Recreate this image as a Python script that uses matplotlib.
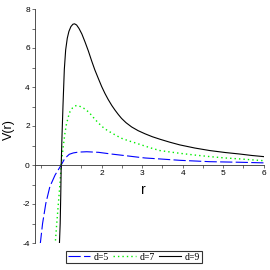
import matplotlib
matplotlib.use("Agg")
import matplotlib.pyplot as plt
import numpy as np

# d = 9 (black, solid)
r9 = [0.955, 0.975, 0.99, 1.0, 1.02, 1.045, 1.077, 1.11, 1.15, 1.19, 1.24, 1.29, 1.33, 1.38,
      1.44, 1.51, 1.59, 1.67, 1.75, 1.83, 1.92, 2.0, 2.08, 2.16, 2.25, 2.33, 2.41, 2.49,
      2.6, 2.74, 2.9, 3.07, 3.25, 3.44, 3.68, 3.93, 4.3, 4.67, 5.05, 5.42, 5.7, 6.0]
v9 = [-4.1, -3.0, -1.4, 0.0, 1.5, 3.1, 4.9, 5.9, 6.5, 6.85, 7.1, 7.22, 7.24, 7.18,
      7.0, 6.72, 6.3, 5.85, 5.35, 4.88, 4.42, 4.02, 3.67, 3.36, 3.05, 2.81, 2.59, 2.39,
      2.17, 1.95, 1.76, 1.6, 1.45, 1.32, 1.17, 1.03, 0.87, 0.74, 0.64, 0.56, 0.49, 0.43]

# d = 7 (green, dotted)
r7 = [0.85, 0.89, 0.93, 0.97, 1.0, 1.05, 1.09, 1.13, 1.18, 1.22, 1.28, 1.33, 1.38, 1.45,
      1.55, 1.67, 1.75, 1.83, 1.93, 2.04, 2.14, 2.25, 2.37, 2.49, 2.65, 2.82, 3.07, 3.25,
      3.44, 3.68, 3.93, 4.3, 4.67, 5.05, 5.42, 6.0]
v7 = [-4.1, -3.0, -1.97, -0.94, 0.0, 0.94, 1.6, 2.1, 2.5, 2.75, 2.93, 3.02, 3.05, 3.02,
      2.92, 2.73, 2.55, 2.35, 2.13, 1.92, 1.77, 1.64, 1.5, 1.37, 1.25, 1.14, 0.97, 0.85,
      0.74, 0.67, 0.60, 0.51, 0.43, 0.36, 0.31, 0.22]

# d = 5 (blue, dashed)
r5 = [0.48, 0.54, 0.62, 0.72, 0.85, 1.0, 1.09, 1.2, 1.3, 1.42, 1.63, 1.92, 2.25, 2.58,
      2.9, 3.07, 3.44, 3.93, 4.67, 5.42, 6.0]
v5 = [-4.1, -3.0, -1.97, -1.11, -0.51, 0.0, 0.34, 0.55, 0.62, 0.66, 0.68, 0.65, 0.56, 0.48,
      0.40, 0.36, 0.31, 0.24, 0.17, 0.14, 0.11]

labels = ["d=5", "d=7", "d=9"]
xtick_labels = [2, 3, 4, 5, 6]
ytick_labels = [-4, -2, 0, 2, 4, 6, 8]

fig = plt.figure(figsize=(2.7, 2.7), dpi=100)
ax = fig.add_axes([35 / 270, 27 / 270, (263.7 - 35) / 270, (243 - 9) / 270])

lw = 0.8
ax.plot(r5, v5, color="#0000ff", lw=lw, dashes=(11, 3), label=labels[0])
ax.plot(r7, v7, color="#00ee00", lw=lw + 0.2, dashes=(1, 2.2), label=labels[1])
ax.plot(r9, v9, color="black", lw=lw, label=labels[2])

ax.set_xlim(0.353, 6.0)
ax.set_ylim(-4, 8)

for s in ["top", "right"]:
    ax.spines[s].set_visible(False)
ax.spines["bottom"].set_position(("data", 0))
ax.spines["left"].set_linewidth(0.6)
ax.spines["bottom"].set_linewidth(0.6)
ax.spines["left"].set_color("#333333")
ax.spines["bottom"].set_color("#333333")

xt = np.arange(0.5, 6.01, 0.5)
ax.set_xticks(xt)
ax.set_xticklabels([str(int(t)) if (t in xtick_labels) else "" for t in xt])
yt = np.arange(-4, 8.01, 1)
ax.set_yticks(yt)
ax.set_yticklabels([str(int(t)) if int(t) in ytick_labels else "" for t in yt])
ax.tick_params(axis="both", direction="out", length=2.2, width=0.5, color="#333333",
               labelsize=6, pad=1.5)
for t in ax.get_xticklabels() + ax.get_yticklabels():
    t.set_fontfamily("Liberation Sans")

fig.text(143 / 270, 1 - 190 / 270, "r", fontsize=10, family="Liberation Sans",
         ha="center", va="center")
fig.text(9 / 270, 1 - 130 / 270, "V(r)", fontsize=9, family="Liberation Sans",
         ha="center", va="center", rotation=90)

leg = fig.legend(loc="center", bbox_to_anchor=(134 / 270, 1 - 257 / 270), ncol=3,
                 frameon=True, fancybox=False, edgecolor="black",
                 prop={"family": "Liberation Serif", "size": 7},
                 handlelength=2.3, handletextpad=0.4, columnspacing=0.4,
                 borderpad=0.15, borderaxespad=0)
leg.get_frame().set_linewidth(0.8)

fig.savefig("out.png", dpi=100)
